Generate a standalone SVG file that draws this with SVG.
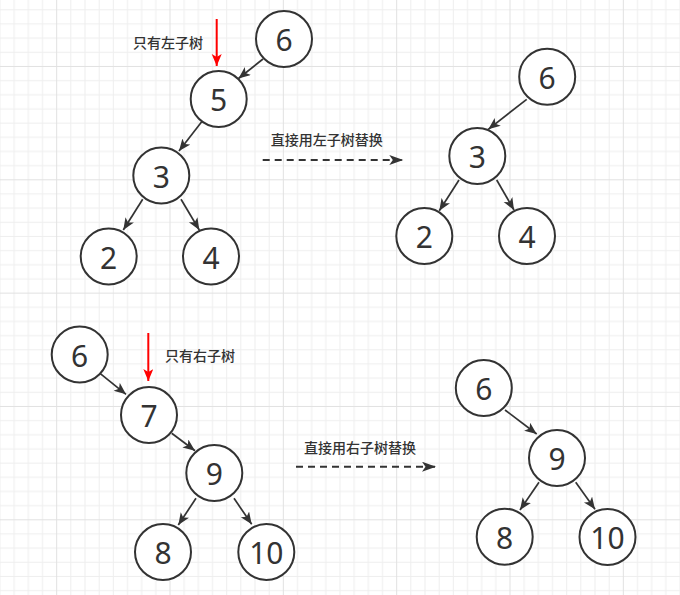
<svg xmlns="http://www.w3.org/2000/svg" width="680" height="595" viewBox="0 0 680 595">
<style>
.node circle{fill:#fff;stroke:#333;stroke-width:2}
.node text{font-family:"Noto Sans","Liberation Sans",sans-serif;font-size:30px;fill:#333;text-anchor:middle}
.lbl{font-family:"Noto Sans CJK SC","Noto Sans",sans-serif;font-size:14px;font-weight:500;fill:#333}
.edge{stroke:#333;stroke-width:1.7;fill:none;marker-end:url(#arr)}
.red{stroke:#ff0000;stroke-width:2;fill:none;marker-end:url(#arrR)}
.dash{stroke:#333;stroke-width:2;fill:none;stroke-dasharray:7 5;marker-end:url(#arrD)}
</style>
<defs>
<marker id="arr" markerUnits="userSpaceOnUse" markerWidth="13" markerHeight="11" refX="12" refY="5" orient="auto" viewBox="0 0 13 11"><path d="M0,0 L12,5 L0,10 L3,5 Z" fill="#333"/></marker>
<marker id="arrR" markerUnits="userSpaceOnUse" markerWidth="13" markerHeight="11" refX="12" refY="5" orient="auto" viewBox="0 0 13 11"><path d="M0,0 L12,5 L0,10 L3,5 Z" fill="#ff0000"/></marker>
<marker id="arrD" markerUnits="userSpaceOnUse" markerWidth="15" markerHeight="11" refX="14" refY="5" orient="auto" viewBox="0 0 15 11"><path d="M0,0 L14,5 L0,10 L3.5,5 Z" fill="#333"/></marker>
<pattern id="grid" patternUnits="userSpaceOnUse" x="-0.5" y="9.3" width="113.333" height="113.333">
<path d="M0.5,0V113.333M14.667,0V113.333M28.833,0V113.333M43,0V113.333M71.333,0V113.333M85.5,0V113.333M99.667,0V113.333M0,0.5H113.333M0,14.667H113.333M0,28.833H113.333M0,43H113.333M0,71.333H113.333M0,85.5H113.333M0,99.667H113.333" stroke="#eeeeee" stroke-width="1" fill="none"/>
<path d="M57.167,0V113.333M0,57.167H113.333" stroke="#e1e1e1" stroke-width="1" fill="none"/>
</pattern>
</defs>
<rect width="680" height="595" fill="#fff"/>
<rect width="680" height="595" fill="url(#grid)"/>

<g id="connectors">
<path class="edge" d="M263,59 L238.5,78.5"/>
<path class="edge" d="M201.9,121.4 L179,151"/>
<path class="edge" d="M142.7,199.3 L123.3,230"/>
<path class="edge" d="M181,199.3 L199.3,230"/>
<path class="edge" d="M526.7,99.3 L488.3,129.3"/>
<path class="edge" d="M459,180 L439.3,210.7"/>
<path class="edge" d="M496.7,180 L514,210"/>
<path class="edge" d="M100,373.3 L126,394.3"/>
<path class="edge" d="M171.7,433.3 L195,450.7"/>
<path class="edge" d="M196,498.3 L178.3,525"/>
<path class="edge" d="M234,498.3 L251.7,524.3"/>
<path class="edge" d="M505,410 L536.7,434"/>
<path class="edge" d="M539,482.3 L520,510"/>
<path class="edge" d="M575.7,482.3 L595,509.3"/>
<path class="red" d="M216.7,19 L216.7,66"/>
<path class="red" d="M148.3,333 L148.3,381"/>
<path class="dash" d="M262.7,160 L403.3,160"/>
<path class="dash" d="M296,466.7 L436,466.7"/>
</g>

<g id="labels">
<text class="lbl" x="133" y="48">只有左子树</text>
<text class="lbl" x="270.7" y="145">直接用左子树替换</text>
<text class="lbl" x="165" y="360.7">只有右子树</text>
<text class="lbl" x="304" y="452.7">直接用右子树替换</text>
</g>

<g id="tl6" class="node"><circle cx="284" cy="39" r="28"/><text x="284" y="51">6</text></g>
<g id="tl5" class="node"><circle cx="218.7" cy="99" r="28"/><text x="218.7" y="111">5</text></g>
<g id="tl3" class="node"><circle cx="161.3" cy="175.5" r="28"/><text x="161.3" y="187.5">3</text></g>
<g id="tl2" class="node"><circle cx="108.7" cy="256.5" r="28"/><text x="108.7" y="268.5">2</text></g>
<g id="tl4" class="node"><circle cx="211" cy="256.5" r="28"/><text x="211" y="268.5">4</text></g>

<g id="tr6" class="node"><circle cx="547.2" cy="76.7" r="28"/><text x="547.2" y="88.7">6</text></g>
<g id="tr3" class="node"><circle cx="477.3" cy="156" r="28"/><text x="477.3" y="168">3</text></g>
<g id="tr2" class="node"><circle cx="424.3" cy="236" r="28"/><text x="424.3" y="248">2</text></g>
<g id="tr4" class="node"><circle cx="527" cy="236" r="28"/><text x="527" y="248">4</text></g>

<g id="bl6" class="node"><circle cx="79.7" cy="354.5" r="28"/><text x="79.7" y="366.5">6</text></g>
<g id="bl7" class="node"><circle cx="149" cy="415" r="28"/><text x="149" y="427">7</text></g>
<g id="bl9" class="node"><circle cx="214.3" cy="473" r="28"/><text x="214.3" y="485">9</text></g>
<g id="bl8" class="node"><circle cx="163" cy="552" r="28"/><text x="163" y="564">8</text></g>
<g id="bl10" class="node"><circle cx="266.3" cy="552" r="28"/><text x="266.3" y="564">10</text></g>

<g id="br6" class="node"><circle cx="483.8" cy="388" r="28"/><text x="483.8" y="400">6</text></g>
<g id="br9" class="node"><circle cx="557" cy="458" r="28"/><text x="557" y="470">9</text></g>
<g id="br8" class="node"><circle cx="504.7" cy="536.7" r="28"/><text x="504.7" y="548.7">8</text></g>
<g id="br10" class="node"><circle cx="607.5" cy="537" r="28"/><text x="607.5" y="549">10</text></g>
</svg>
